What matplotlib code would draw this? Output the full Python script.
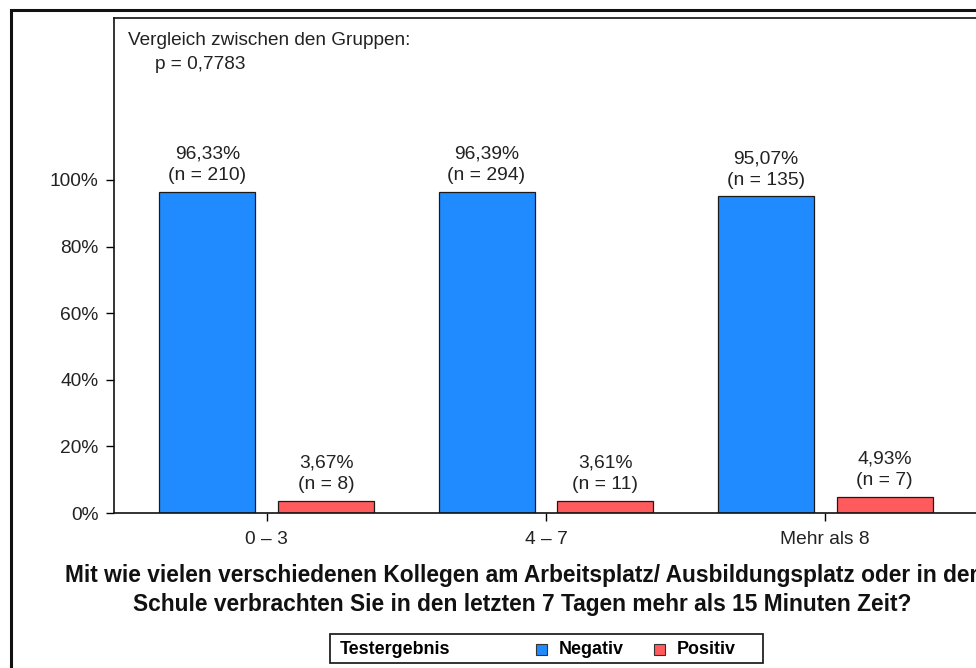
import numpy as np
import matplotlib.pyplot as plt
from matplotlib.patches import Rectangle

plt.rcParams['font.family'] = ['Liberation Sans', 'DejaVu Sans']

groups = ['0 – 3', '4 – 7', 'Mehr als 8']
neg_pct = [96.33, 96.39, 95.07]
pos_pct = [3.67, 3.61, 4.93]
neg_n = [210, 294, 135]
pos_n = [8, 11, 7]
p_value = '0,7783'
yticks = [0, 20, 40, 60, 80, 100]

blue = '#1f8bff'
red = '#ff5a5c'

fig = plt.figure(figsize=(9.76, 6.68), dpi=100)
ax = fig.add_axes([114/976, 1-513/668, 864/976, 495/668])

x = np.arange(len(groups))
w = 0.344
off = 0.213
b1 = ax.bar(x - off, neg_pct, w, color=blue, edgecolor='#1a1a1a', linewidth=0.9)
b2 = ax.bar(x + off, pos_pct, w, color=red, edgecolor='#1a1a1a', linewidth=0.9)

def fmt(v):
    return f'{v:.2f}'.replace('.', ',') + '%'

for bars, vals, ns in [(b1, neg_pct, neg_n), (b2, pos_pct, pos_n)]:
    for b, v, n in zip(bars, vals, ns):
        ax.annotate(f'{fmt(v)}\n(n = {n})', (b.get_x() + b.get_width()/2, v),
                    xytext=(0, 5.5), textcoords='offset points', ha='center', va='bottom',
                    fontsize=13.9, color='#222222', linespacing=1.35)

ax.set_xlim(-0.548, 2.548)
ax.set_ylim(0, 148.6)
ax.set_yticks(yticks)
ax.set_yticklabels([f'{t}%' for t in yticks])
ax.set_xticks(x)
ax.set_xticklabels(groups)
ax.tick_params(axis='both', labelsize=13.8, labelcolor='#222222', length=6, width=1, direction='out')
ax.tick_params(axis='x', pad=7)
ax.tick_params(axis='y', pad=5)
for s in ax.spines.values():
    s.set_linewidth(1.2)
    s.set_color('#111111')

ax.text(0.016, 0.955, 'Vergleich zwischen den Gruppen:', transform=ax.transAxes,
        fontsize=13.7, color='#222222', va='center', ha='left')
ax.text(0.047, 0.907, f'p = {p_value}', transform=ax.transAxes,
        fontsize=13.7, color='#222222', va='center', ha='left')

fig.text(522/976, 1-590/668,
         'Mit wie vielen verschiedenen Kollegen am Arbeitsplatz/ Ausbildungsplatz oder in der\n'
         'Schule verbrachten Sie in den letzten 7 Tagen mehr als 15 Minuten Zeit?',
         ha='center', va='center', fontsize=16.4, fontweight='bold', color='#111111',
         linespacing=1.35)

# outer frame
fig.add_artist(Rectangle((11/976, -0.1), 1.2, 1.1 - 10/668, transform=fig.transFigure,
                         fill=False, edgecolor='#111111', linewidth=2.2))

# legend box
fig.add_artist(Rectangle((330/976, 1-663/668), 433/976, 29/668, transform=fig.transFigure,
                         fill=False, edgecolor='#222222', linewidth=1.3))
ly = 1 - 649/668
fig.text(340/976, ly, 'Testergebnis', fontsize=12.9, fontweight='bold', va='center', ha='left')
for xs, col, lab in [(536, blue, 'Negativ'), (654, red, 'Positiv')]:
    fig.add_artist(Rectangle((xs/976, ly - 5.5/668), 11/976, 11/668, transform=fig.transFigure,
                             facecolor=col, edgecolor='#333333', linewidth=0.8))
    fig.text((xs + 23)/976, ly, lab, fontsize=12.9, fontweight='bold', va='center', ha='left')

fig.savefig('out.png', dpi=100)
